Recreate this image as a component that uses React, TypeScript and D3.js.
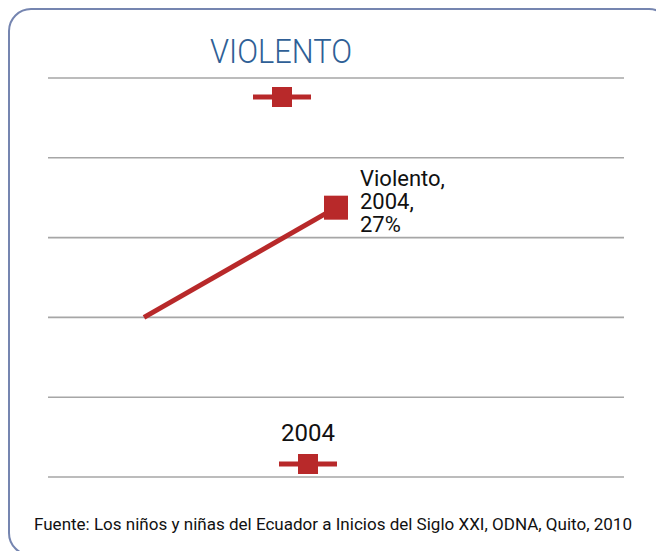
import React from "react";
import * as d3 from "d3";

// chart data
const slots = ["prev", "2004", "next"];
const violento = [16, 27, null];
const gridTicks = [0, 8, 16, 24, 32, 40];
const labelLines = ["Violento,", "2004,", "27%"];
const legendItems = [
  { text: "", x: 282, y: 97 },
  { text: "2004", x: 308, y: 464 },
];
const title = "VIOLENTO";
const source =
  "Fuente: Los niños y niñas del Ecuador a Inicios del Siglo XXI, ODNA, Quito, 2010";

const W = 656;
const H = 551;
const red = "#b8292a";
const font = "Roboto, 'Noto Sans', sans-serif";

const App = () => {
  // scales
  const x = d3.scaleBand<string>().domain(slots).range([48, 624]);
  const y = d3.scaleLinear().domain([0, 40]).range([477, 78]);
  const cx = (s: string) => (x(s) as number) + x.bandwidth() / 2;

  const pts = slots
    .map((s, i) => ({ s, v: violento[i] }))
    .filter((d) => d.v !== null) as { s: string; v: number }[];

  const line = d3
    .line<{ s: string; v: number }>()
    .x((d) => cx(d.s))
    .y((d) => y(d.v));

  const last = pts[pts.length - 1];
  const mx = cx(last.s);
  const my = y(last.v);

  return (
    <div style={{ position: "absolute", left: 0, top: 0 }}>
      <svg width={W} height={H} style={{ display: "block", fontFamily: font }}>
        <rect x={0} y={0} width={W} height={H} fill="#fff" />
        {/* frame */}
        <rect
          x={9}
          y={9}
          width={662}
          height={546}
          rx={22}
          fill="none"
          stroke="#7585b0"
          strokeWidth={2}
        />
        <text
          x={210}
          y={63}
          fontSize={33}
          fontWeight={300}
          fill="#2f5f96"
          textLength={142}
          lengthAdjust="spacingAndGlyphs"
        >
          {title}
        </text>
        {/* gridlines */}
        {gridTicks.map((t) => (
          <line
            key={t}
            x1={48}
            x2={624}
            y1={y(t)}
            y2={y(t)}
            stroke="#a6a6a6"
            strokeWidth={1.6}
          />
        ))}
        {/* series */}
        <path d={line(pts) || ""} fill="none" stroke={red} strokeWidth={5} />
        <rect x={mx - 12} y={my - 12} width={24} height={24} fill={red} />
        <text fontSize={22} fill="#111">
          {labelLines.map((l, i) => (
            <tspan key={i} x={360} y={my - 22 + i * 23}>
              {l}
            </tspan>
          ))}
        </text>
        {/* legend */}
        {legendItems.map((d, i) => (
          <g key={i} transform={`translate(${d.x},${d.y})`}>
            <line x1={-29} x2={29} y1={0} y2={0} stroke={red} strokeWidth={5} />
            <rect x={-10} y={-10} width={20} height={20} fill={red} />
            {d.text && (
              <text y={-23} textAnchor="middle" fontSize={24} fill="#111">
                {d.text}
              </text>
            )}
          </g>
        ))}
        <text
          x={34}
          y={530}
          fontSize={16}
          fill="#111"
          textLength={598}
          lengthAdjust="spacingAndGlyphs"
        >
          {source}
        </text>
      </svg>
    </div>
  );
};

export default App;
